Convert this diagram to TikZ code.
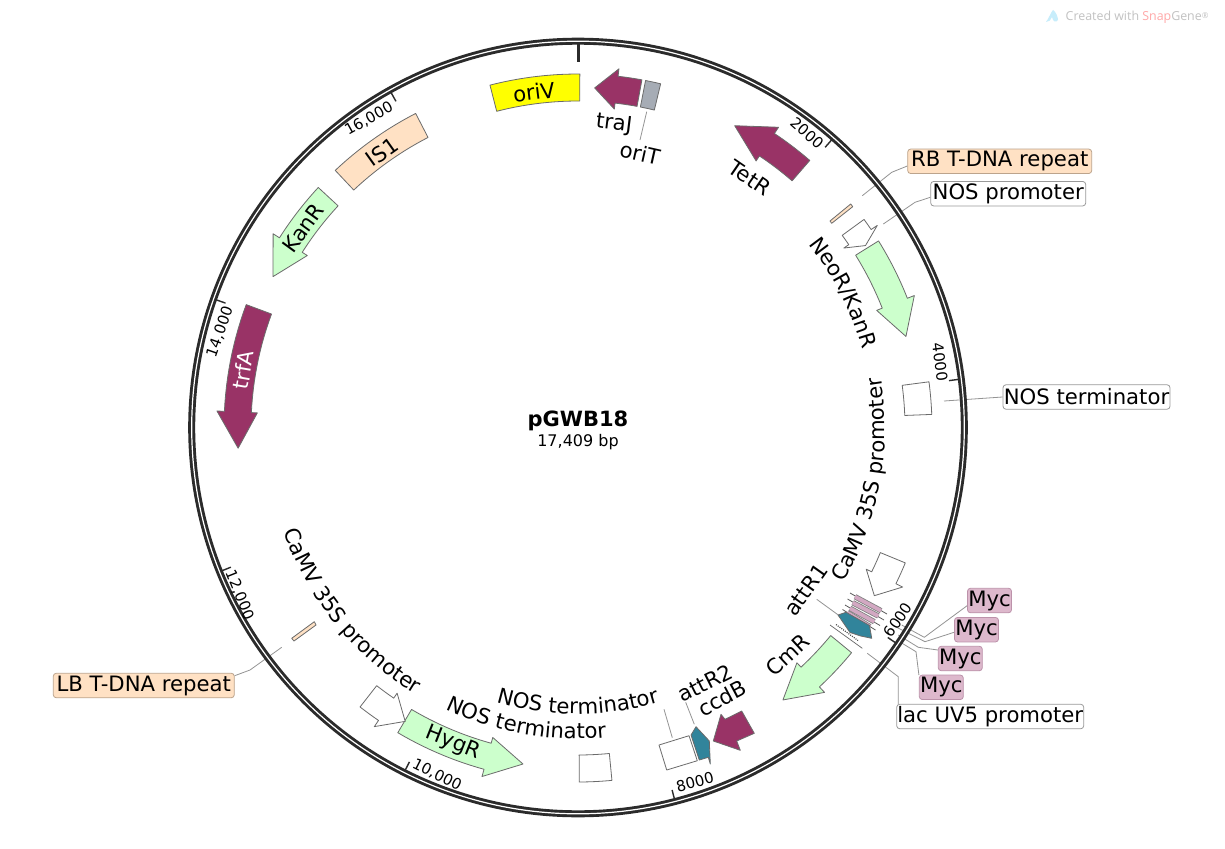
\documentclass[tikz,border=0pt]{standalone}
\usepackage{fontspec}
\setmainfont{DejaVu Sans}
\newfontfamily\wmfont{Open Sans}
\usetikzlibrary{decorations.text}
\definecolor{peach}{HTML}{FFE1C4}
\definecolor{peachb}{HTML}{BCA48C}
\definecolor{pinkf}{HTML}{DDB8CC}
\definecolor{pinkb}{HTML}{BC92AA}
\definecolor{barf}{HTML}{D2A8C2}
\definecolor{mintf}{HTML}{CCFFCC}
\definecolor{maroon}{HTML}{993366}
\definecolor{tealf}{HTML}{31849B}
\definecolor{greyf}{HTML}{A6ACB5}
\definecolor{ringc}{HTML}{2B2B2B}
\definecolor{purey}{HTML}{FFFF00}
\newcommand{\lblfont}{\fontsize{21.2}{25}\selectfont}
\newcommand{\tickfont}{\fontsize{15}{18}\selectfont}
% arrow feature: start, neck, tip (clockwise angle from the top), style
\newcommand{\farrow}[4]{%
 \draw[#4] plot[domain=#1:#2,samples=14] ({578+354*sin(\x)},{428-354*cos(\x)})
  -- ({578+361.5*sin(#2)},{428-361.5*cos(#2)})
  -- ({578+340.5*sin(#3)},{428-340.5*cos(#3)})
  -- ({578+321*sin(#2)},{428-321*cos(#2)})
  -- plot[domain=#2:#1,samples=14] ({578+327*sin(\x)},{428-327*cos(\x)}) -- cycle;}
% block feature: start, end, style
\newcommand{\fblock}[3]{%
 \draw[#3] plot[domain=#1:#2,samples=14] ({578+354*sin(\x)},{428-354*cos(\x)})
  -- plot[domain=#2:#1,samples=14] ({578+327*sin(\x)},{428-327*cos(\x)}) -- cycle;}
% label following the arc: from, to, radius, text
\newcommand{\curvedlabel}[4]{%
 \path[decorate,decoration={text along path,text align=center,text={|\lblfont|#4}}]
  plot[domain=#1:#2,samples=80] ({578+#3*sin(\x)},{428-#3*cos(\x)});}
\tikzset{
 feat/.style={draw=black!58,line width=0.8pt,line join=round},
 white feat/.style={feat,fill=white},
 mint feat/.style={feat,fill=mintf},
 maroon feat/.style={feat,fill=maroon},
 peach feat/.style={feat,fill=peach},
 teal feat/.style={feat,fill=tealf},
 conn/.style={draw=black!42,line width=0.8pt},
 flabel/.style={font=\lblfont,inner sep=0pt},
 ticklabel/.style={font=\tickfont,inner sep=0pt},
 tickmark/.style={draw=ringc,line width=1.4pt},
 box/.style={font=\lblfont,rounded corners=3pt,inner sep=0pt,minimum height=24.5pt,line width=0.8pt},
 white box/.style={box,draw=black!40,fill=white},
 peach box/.style={box,draw=peachb,fill=peach},
 myc box/.style={box,draw=pinkb,fill=pinkf,minimum width=44pt},
 myc bar/.style={draw=black!50,line width=5.4pt},
 myc fill/.style={draw=barf,line width=3.8pt},
 myc line/.style={draw=black!65,line width=0.8pt},
}
\begin{document}
\begin{tikzpicture}[x=1pt,y=-1pt]
\useasboundingbox[fill=white] (0,0) rectangle (1225,848);

% watermark
\fill[fill=cyan!22] (1046,22) .. controls (1049,18) and (1051,12) .. (1053,10) .. controls (1056,12) and (1058,17) .. (1058,20) .. controls (1056,23) and (1053,22) .. (1052,17) .. controls (1051,20) and (1049,22) .. (1046,22) -- cycle;
\node[anchor=west,inner sep=0pt,font=\wmfont\fontsize{12.4}{15}\selectfont,text=black!24] (wm) at (1065.5,17) {Created with \textcolor{red!34}{Snap}Gene\raisebox{2pt}{\fontsize{8}{9}\selectfont ®}};

% label boxes
\node[peach box,minimum width=184pt] (rb) at (999.7,161.3) {RB T-DNA repeat};
\node[white box,minimum width=155pt] (nosp) at (1008.2,193.7) {NOS promoter};
\node[white box,minimum width=167pt] (nost) at (1086.5,397) {NOS terminator};
\node[myc box] (myc1) at (989.5,600.5) {Myc};
\node[myc box] (myc2) at (976.5,629.7) {Myc};
\node[myc box] (myc3) at (960.3,658.5) {Myc};
\node[myc box] (myc4) at (941.3,687.3) {Myc};
\node[white box,minimum width=187pt] (lac) at (990.2,716.5) {lac UV5 promoter};
\node[peach box,minimum width=181pt] (lb) at (143.8,685.5) {LB T-DNA repeat};

% connectors (run under the ring)
\coordinate (rb1) at (862.3,195.7);   \coordinate (rb2) at (891.7,172.3);
\coordinate (np1) at (883.3,224);     \coordinate (np2) at (915,202.3);
\coordinate (nt1) at (944,401);
\coordinate (m1a) at (901.7,625);     \coordinate (m1b) at (924.3,637.3);
\coordinate (m2a) at (896,627);       \coordinate (m2b) at (925,641.7);
\coordinate (m3a) at (898.3,635);     \coordinate (m3b) at (918.3,647.3);
\coordinate (m4a) at (896.7,640);     \coordinate (m4b) at (916,651.7);
\coordinate (la) at (867.3,653.3);    \coordinate (lb2) at (898.3,676.7);
\coordinate (lbA) at (281.7,647.3);   \coordinate (lbB) at (250,670);
\coordinate (oT1) at (646.7,111.7);   \coordinate (oT2) at (640,140);
\coordinate (aR11) at (816.7,599.3);  \coordinate (aR12) at (838.3,615);
\coordinate (aR21) at (685.7,702.3);  \coordinate (aR22) at (694.3,724.3);
\coordinate (nb1) at (664,709.3);     \coordinate (nb2) at (672.3,737.7);
\draw[conn] (rb1) -- (rb2) -- (rb.west |- 0,166);
\draw[conn] (np1) -- (np2) -- (nosp.west |- 0,197.3);
\draw[conn] (nt1) -- (nost.west);
\draw[conn] (m1a) -- (m1b) -- (myc1.west |- 0,605.7);
\draw[conn] (m2a) -- (m2b) -- (myc2.west |- 0,632.3);
\draw[conn] (m3a) -- (m3b) -- (myc3.west |- 0,650);
\draw[conn] (m4a) -- (m4b) -- (myc4.south west |- 0,675);
\draw[conn] (la) -- (lb2) -- (lb2 |- lac.north);
\draw[conn] (lbA) -- (lbB) -- (lb.east |- 0,675.7);
\draw[conn] (oT1) -- (oT2);
\draw[conn] (aR11) -- (aR12);
\draw[conn] (aR21) -- (aR22);
\draw[conn] (nb1) -- (nb2);

% ring and ticks
\coordinate (t0a) at (578,43); \coordinate (t0b) at (578,62);
\draw[draw=ringc,line width=3pt] (t0a) -- (t0b);
\foreach \t/\n in {41.36/a,82.72/b,124.07/c,165.43/d,206.79/e,248.15/f,289.51/g,330.87/h}{
  \draw[tickmark] ({578+385*sin(\t)},{428-385*cos(\t)}) -- ({578+374*sin(\t)},{428-374*cos(\t)});
}
\draw[draw=ringc,line width=7pt] (578,427.5) circle [radius=386.3];
\draw[draw=white,line width=1.2pt] (578,427.5) circle [radius=386.3];
\node[ticklabel,rotate=-41.4] (t2) at (807,133) {2000};
\node[ticklabel,rotate=-82.7] (t4) at (940,362) {4000};
\node[ticklabel,rotate=55.9] (t6) at (898,620) {6000};
\node[ticklabel,rotate=14.6] (t8) at (695,782) {8000};
\node[ticklabel,rotate=-26.8] (t10) at (437,775) {10,000};
\node[ticklabel,rotate=-68.1] (t12) at (240,595) {12,000};
\node[ticklabel,rotate=70.5] (t14) at (220,332) {14,000};
\node[ticklabel,rotate=29.1] (t16) at (369,119) {16,000};

% features
\fblock{-14.4}{0.3}{feat,fill=purey}
\farrow{10.4}{6.5}{2.8}{maroon feat}
\fblock{11}{13.5}{feat,fill=greyf}
\farrow{40.9}{33.7}{27.4}{maroon feat}
\draw[peach feat] (830,221) -- (850.7,204) -- (852.7,206.7) -- (831.7,223.3) -- cycle;
\farrow{53.9}{55.9}{57.6}{white feat}
\farrow{58.1}{68.5}{74.4}{mint feat}
\fblock{82.5}{87.8}{white feat}
\farrow{112.4}{116.1}{119.5}{white feat}
% Myc bars
\foreach \x/\y/\u/\v in {850/593/887/614,847.5/599/884/620,845/605/880/625.5,842.5/609.5/875.5/630}{
  \draw[myc line] (\x,\y) -- (\u,\v);
}
\foreach \x/\y/\u/\v in {855/596.7/881/610.7,852.7/602.7/878.3/616,850/608.3/874.3/621.7,847.3/612.7/870/626.7}{
  \draw[myc bar] (\x,\y) -- (\u,\v);
}
\foreach \x/\y/\u/\v in {855/596.7/881/610.7,852.7/602.7/878.3/616,850/608.3/874.3/621.7,847.3/612.7/870/626.7}{
  \draw[myc fill] (\x,\y) -- (\u,\v);
}
\draw[teal feat] (846,612.3) -- (869.5,625.5) -- (871.7,638.3) -- (860.7,636) -- (850,632.5) -- (838,615) -- cycle;
% lac UV5 promoter
\coordinate (luA) at (830,625); \coordinate (luB) at (862.3,648.3);
\draw[draw=black!60,line width=0.7pt] (luA) -- (luB);
\draw[draw=black!70,line width=1.2pt,dash pattern=on 1pt off 1.2pt] (836,624.5) -- (858,640.5);
\farrow{129.4}{137}{143}{mint feat}
\draw[maroon feat] (741.7,711) -- (754.3,733.3) -- (736.7,741) -- (740.3,750.3) -- (713.3,741) -- (721,714.3) -- (725,719.3) -- cycle;
\draw[teal feat] (691,735) -- (696,726.7) -- (709.3,741) -- (710.3,764) -- (708.3,757.3) -- (699.3,760) -- cycle;
\draw[white feat] (659,745) -- (689,735.7) -- (697.3,760.7) -- (666.7,770) -- cycle;
\fblock{174.5}{179.8}{white feat}
\farrow{210.6}{195.4}{189.3}{mint feat}
\farrow{218}{214.3}{210.5}{white feat}
\draw[peach feat] (291.7,638.3) -- (314.3,621.7) -- (316,625) -- (294,641) -- cycle;
\farrow{290.4}{272.7}{266.6}{maroon feat}
\farrow{312.8}{302.5}{296.4}{mint feat}
\fblock{316.7}{332.7}{peach feat}

% feature labels
\node[flabel,rotate=7] (oriVl) at (534,92) {oriV};
\node[flabel,rotate=-7] (traJl) at (614,124) {traJ};
\node[flabel,rotate=-12.7] (oriTl) at (640,153) {oriT};
\node[flabel,rotate=-34.5] (TetRl) at (750,178) {TetR};
\node[flabel,rotate=54.6] (attR1l) at (806,590) {attR1};
\node[flabel,rotate=42.8] (CmRl) at (788,655) {CmR};
\node[flabel,rotate=26.5] (attR2l) at (705,683) {attR2};
\node[flabel,rotate=28] (ccdBl) at (722,698) {ccdB};
\node[flabel,rotate=-21.6] (HygRl) at (453,743) {HygR};
\node[flabel,rotate=80.2,text=white] (trfAl) at (243,370) {trfA};
\node[flabel,rotate=54] (KanRl) at (303,228) {KanR};
\node[flabel,rotate=35.4] (IS1l) at (382,152) {IS1};
\curvedlabel{33}{93}{295}{NeoR/KanR}
\curvedlabel{140.4}{60.4}{307}{CaMV 35S promoter}
\curvedlabel{271}{191}{312}{CaMV 35S promoter}
\curvedlabel{225}{135}{286}{NOS terminator}
\curvedlabel{235}{145}{311}{NOS terminator}

% centre
\node[inner sep=0pt,font=\bfseries\fontsize{21}{25}\selectfont] (title) at (578,421) {pGWB18};
\node[inner sep=0pt,font=\fontsize{16}{19}\selectfont] (bp) at (578,442) {17,409 bp};
\end{tikzpicture}
\end{document}
